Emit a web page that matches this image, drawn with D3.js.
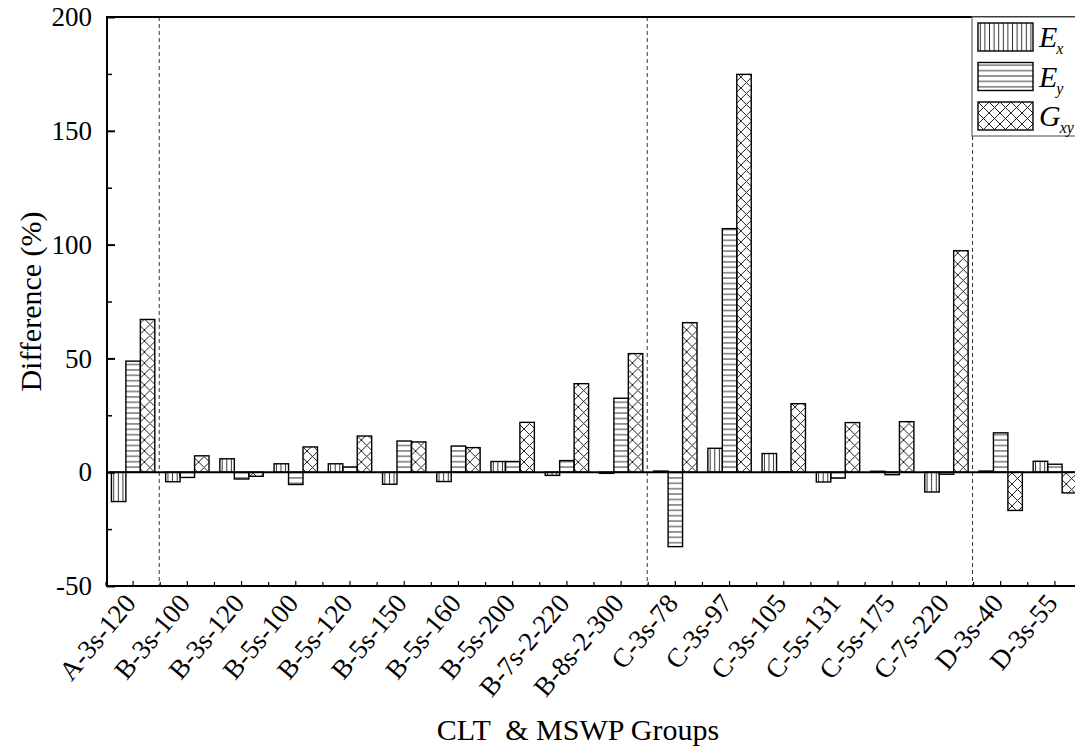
<!DOCTYPE html>
<html>
<head>
<meta charset="utf-8">
<script src="https://cdn.jsdelivr.net/npm/d3@7/dist/d3.min.js"></script>
<style>
  body { margin: 0; background: #fff; }
</style>
</head>
<body>
<svg class="chart"></svg>
<script>
'use strict';

// data
var categories = ["A-3s-120", "B-3s-100", "B-3s-120", "B-5s-100", "B-5s-120", "B-5s-150",
    "B-5s-160", "B-5s-200", "B-7s-2-220", "B-8s-2-300", "C-3s-78", "C-3s-97", "C-3s-105",
    "C-5s-131", "C-5s-175", "C-7s-220", "D-3s-40", "D-3s-55"];
var seriesNames = ["Ex", "Ey", "Gxy"];
var exValues = [-12.9, -4.2, 5.9, 3.7, 3.7, -5.3, -4.1, 4.7, -1.4, -0.5, 0.5, 10.5, 8.2, -4.3, 0.4, -8.7, 0.5, 4.8];
var eyValues = [48.8, -2.3, -3.0, -5.4, 2.3, 13.7, 11.5, 4.7, 5.1, 32.5, -32.7, 107.0, 0.2, -2.6, -1.1, -0.9, 17.3, 3.5];
var gxyValues = [67.1, 7.2, -1.8, 11.1, 15.9, 13.3, 10.8, 21.9, 38.9, 52.1, 65.7, 174.8, 30.1, 21.8, 22.2, 97.3, -16.8, -9.1];
var yTicks = [-50, 0, 50, 100, 150, 200];
var yMinorTicks = [-25, 25, 75, 125, 175];
// separators between the groups (drawn before these categories)
var groupStarts = ["B-3s-100", "C-3s-78", "D-3s-40"];

var width = 1075, height = 753;
var plot = {left: 107, top: 17, bottom: 586};
var serif = "'Liberation Serif', 'Times New Roman', serif";

var svg = d3.select(".chart")
    .attr("width", width)
    .attr("height", height);

var defs = svg.append("defs");

// hatch patterns
var pv = defs.append("pattern").attr("id", "hatch-ex")
    .attr("patternUnits", "userSpaceOnUse").attr("width", 4.6).attr("height", 10);
pv.append("line").attr("x1", 2.3).attr("x2", 2.3).attr("y1", 0).attr("y2", 10)
    .attr("stroke", "#333").attr("stroke-width", 1);

var ph = defs.append("pattern").attr("id", "hatch-ey")
    .attr("patternUnits", "userSpaceOnUse").attr("width", 10).attr("height", 5.4);
ph.append("line").attr("x1", 0).attr("x2", 10).attr("y1", 2.7).attr("y2", 2.7)
    .attr("stroke", "#333").attr("stroke-width", 1);

var pc = defs.append("pattern").attr("id", "hatch-gxy")
    .attr("patternUnits", "userSpaceOnUse").attr("width", 11).attr("height", 11);
pc.append("path").attr("d", "M0,0L11,11M11,0L0,11M-1,10L1,12M10,-1L12,1M-1,1L1,-1M10,12L12,10")
    .attr("stroke", "#222").attr("stroke-width", 1).attr("fill", "none");

var fills = {Ex: "url(#hatch-ex)", Ey: "url(#hatch-ey)", Gxy: "url(#hatch-gxy)"};

var data = categories.map(function(c, i) {
    return {cat: c, Ex: exValues[i], Ey: eyValues[i], Gxy: gxyValues[i]};
});

var x0 = d3.scaleBand()
    .domain(categories)
    .range([106, 1082])
    .paddingInner(0.2)
    .paddingOuter(0.1);

var x1 = d3.scaleBand()
    .domain(seriesNames)
    .range([0, x0.bandwidth()]);

var y = d3.scaleLinear()
    .domain([-50, 200])
    .range([plot.bottom, plot.top]);

// dashed separators
svg.append("g").selectAll("line")
    .data(groupStarts)
    .enter().append("line")
    .attr("x1", function(d) { return x0(d) - x0.step() * x0.paddingInner() / 2 - 1; })
    .attr("x2", function(d) { return x0(d) - x0.step() * x0.paddingInner() / 2 - 1; })
    .attr("y1", plot.top)
    .attr("y2", plot.bottom)
    .attr("stroke", "#333")
    .attr("stroke-width", 1)
    .attr("stroke-dasharray", "4,3");

// bars
svg.append("g").selectAll("g")
    .data(data)
    .enter().append("g")
    .attr("transform", function(d) { return "translate(" + x0(d.cat) + ",0)"; })
    .selectAll("rect")
    .data(function(d) { return seriesNames.map(function(k) { return {key: k, value: d[k]}; }); })
    .enter().append("rect")
    .attr("x", function(d) { return x1(d.key); })
    .attr("y", function(d) { return y(Math.max(0, d.value)); })
    .attr("width", x1.bandwidth())
    .attr("height", function(d) { return Math.abs(y(d.value) - y(0)); })
    .attr("fill", function(d) { return fills[d.key]; })
    .attr("stroke", "#000")
    .attr("stroke-width", 1.4);

// zero line
svg.append("line")
    .attr("x1", plot.left).attr("x2", width)
    .attr("y1", y(0)).attr("y2", y(0))
    .attr("stroke", "#000").attr("stroke-width", 2);

// frame: top, left, bottom
svg.append("path")
    .attr("d", "M" + width + "," + plot.top + "H" + plot.left + "V" + plot.bottom + "H" + width)
    .attr("fill", "none").attr("stroke", "#000").attr("stroke-width", 2);

// y axis
var yAxis = d3.axisLeft(y).tickValues(yTicks).tickSize(-8).tickPadding(15)
    .tickFormat(function(d) { return d < 0 ? "-" + (-d) : d; });
var gy = svg.append("g").attr("transform", "translate(" + plot.left + ",0)").call(yAxis);
gy.select(".domain").remove();
gy.selectAll(".tick line").attr("stroke-width", 2);
gy.selectAll(".tick text")
    .style("font-family", serif)
    .style("font-size", "27px")
    .attr("fill", "#000");

var gyMinor = d3.axisLeft(y).tickValues(yMinorTicks).tickSize(-5).tickFormat("");
var gym = svg.append("g").attr("transform", "translate(" + plot.left + ",0)").call(gyMinor);
gym.select(".domain").remove();
gym.selectAll(".tick line").attr("stroke-width", 1.5);

// x axis
var xAxis = d3.axisBottom(x0).tickSize(-5).tickFormat("");
var gx = svg.append("g").attr("transform", "translate(0," + plot.bottom + ")").call(xAxis);
gx.select(".domain").remove();
gx.selectAll(".tick line").attr("stroke-width", 1.2);

// minor ticks at the group boundaries
svg.append("g").selectAll("line")
    .data(categories)
    .enter().append("line")
    .attr("x1", function(d) { return x0(d) - x0.step() * 0.1; })
    .attr("x2", function(d) { return x0(d) - x0.step() * 0.1; })
    .attr("y1", plot.bottom).attr("y2", plot.bottom - 4)
    .attr("stroke", "#000").attr("stroke-width", 1.2);

// rotated category labels
svg.append("g").selectAll("text")
    .data(categories)
    .enter().append("text")
    .attr("transform", function(d) {
        return "translate(" + (x0(d) + x0.bandwidth() / 2 + 4) + "," + (plot.bottom + 18) + ") rotate(-50)";
    })
    .attr("text-anchor", "end")
    .style("font-family", serif)
    .style("font-size", "27px")
    .attr("fill", "#000")
    .text(function(d) { return d; });

// axis titles
svg.append("text")
    .attr("transform", "translate(41," + ((plot.top + plot.bottom) / 2) + ") rotate(-90)")
    .attr("text-anchor", "middle")
    .style("font-family", serif)
    .style("font-size", "30px")
    .text("Difference (%)");

svg.append("text")
    .attr("x", 578).attr("y", 740)
    .attr("text-anchor", "middle")
    .style("font-family", serif)
    .style("font-size", "30px")
    .style("white-space", "pre")
    .text("CLT  & MSWP Groups");

// legend
var legend = svg.append("g");
legend.append("rect")
    .attr("x", 972).attr("y", plot.top)
    .attr("width", 120).attr("height", 119)
    .attr("fill", "#fff").attr("stroke", "#666").attr("stroke-width", 1.2);

var legendLabels = [["E", "x"], ["E", "y"], ["G", "xy"]];
var item = legend.selectAll("g.item")
    .data(seriesNames)
    .enter().append("g")
    .attr("class", "item")
    .attr("transform", function(d, i) { return "translate(978," + (23 + i * 39.5) + ")"; });

item.append("rect")
    .attr("width", 55).attr("height", 28)
    .attr("fill", function(d) { return fills[d]; })
    .attr("stroke", "#000").attr("stroke-width", 1.4);

var lt = item.append("text")
    .attr("x", 61).attr("y", 24)
    .style("font-family", serif)
    .style("font-size", "30px")
    .style("font-style", "italic");
lt.append("tspan").text(function(d, i) { return legendLabels[i][0]; });
lt.append("tspan").attr("dy", 7).attr("dx", -1).style("font-size", "16px")
    .text(function(d, i) { return legendLabels[i][1]; });
</script>
</body>
</html>
